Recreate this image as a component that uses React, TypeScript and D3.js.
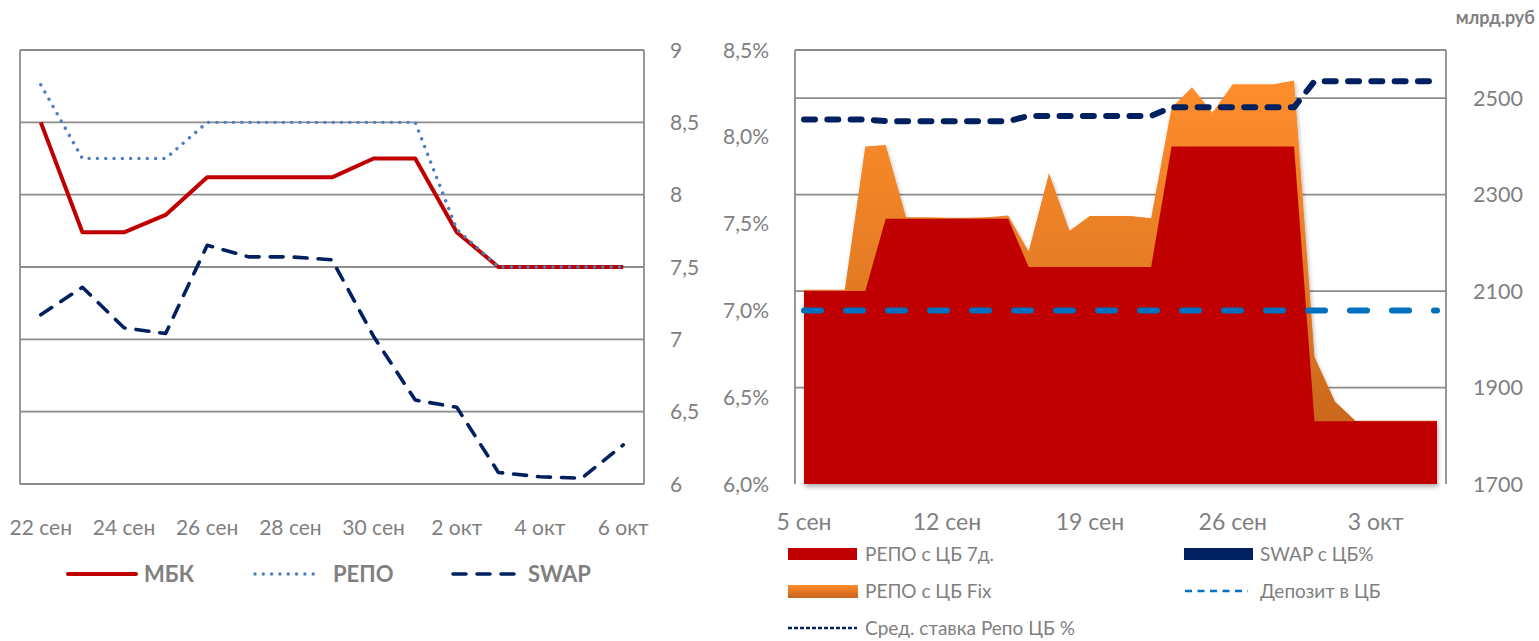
import React from "react";
import * as d3 from "d3";

// ---------- Left chart data ----------
const leftDates = ["22 сен", "23 сен", "24 сен", "25 сен", "26 сен", "27 сен", "28 сен", "29 сен", "30 сен", "1 окт", "2 окт", "3 окт", "4 окт", "5 окт", "6 окт"];
const leftTickLabels = ["22 сен", "24 сен", "26 сен", "28 сен", "30 сен", "2 окт", "4 окт", "6 окт"];
const mbk = [8.5, 7.74, 7.74, 7.86, 8.12, 8.12, 8.12, 8.12, 8.25, 8.25, 7.74, 7.5, 7.5, 7.5, 7.5];
const repo = [8.76, 8.25, 8.25, 8.25, 8.5, 8.5, 8.5, 8.5, 8.5, 8.5, 7.76, 7.5, 7.5, 7.5, 7.5];
const swap = [7.17, 7.36, 7.08, 7.04, 7.65, 7.57, 7.57, 7.55, 7.02, 6.58, 6.53, 6.08, 6.05, 6.04, 6.27];
const leftYTicks = [6, 6.5, 7, 7.5, 8, 8.5, 9];
const leftYTickLabels = ["6", "6,5", "7", "7,5", "8", "8,5", "9"];
const leftLegend = ["МБК", "РЕПО", "SWAP"];

// ---------- Right chart data ----------
const rightDates = [
  "5 сен", "6 сен", "7 сен", "8 сен", "9 сен", "10 сен", "11 сен", "12 сен", "13 сен", "14 сен",
  "15 сен", "16 сен", "17 сен", "18 сен", "19 сен", "20 сен", "21 сен", "22 сен", "23 сен", "24 сен",
  "25 сен", "26 сен", "27 сен", "28 сен", "29 сен", "30 сен", "1 окт", "2 окт", "3 окт", "4 окт",
  "5 окт", "6 окт",
];
const rightTickLabels = ["5 сен", "12 сен", "19 сен", "26 сен", "3 окт"];
// млрд руб (right axis)
const repo7d = [
  2100, 2100, 2100, 2100, 2250, 2250, 2250, 2250, 2250, 2250,
  2250, 2150, 2150, 2150, 2150, 2150, 2150, 2150, 2400, 2400,
  2400, 2400, 2400, 2400, 2400, 1830, 1830, 1830, 1830, 1830,
  1830, 1830,
];
const repoFix = [
  3, 3, 3, 300, 153, 3, 3, 2, 2, 3,
  7, 32, 195, 75, 106, 106, 106, 101, 80, 123,
  70, 129, 129, 129, 137, 134, 41, 1, 1, 1,
  1, 1,
];
// % (left axis)
const depositRate = [
  7.0, 7.0, 7.0, 7.0, 7.0, 7.0, 7.0, 7.0, 7.0, 7.0,
  7.0, 7.0, 7.0, 7.0, 7.0, 7.0, 7.0, 7.0, 7.0, 7.0,
  7.0, 7.0, 7.0, 7.0, 7.0, 7.0, 7.0, 7.0, 7.0, 7.0,
  7.0, 7.0,
];
const avgRepoRate = [
  8.10, 8.10, 8.10, 8.10, 8.09, 8.09, 8.09, 8.09, 8.09, 8.09,
  8.09, 8.12, 8.12, 8.12, 8.12, 8.12, 8.12, 8.12, 8.17, 8.17,
  8.17, 8.17, 8.17, 8.17, 8.17, 8.32, 8.32, 8.32, 8.32, 8.32,
  8.32, 8.32,
];
const rightPctTicks = [6, 6.5, 7, 7.5, 8, 8.5];
const rightPctLabels = ["6,0%", "6,5%", "7,0%", "7,5%", "8,0%", "8,5%"];
const rightBlnTicks = [1700, 1900, 2100, 2300, 2500];
const rightUnit = "млрд.руб";
const rightLegend = ["РЕПО с ЦБ 7д.", "SWAP с ЦБ%", "РЕПО с ЦБ Fix", "Депозит в ЦБ", "Сред. ставка Репо ЦБ %"];

const FONT = "Lato, 'Open Sans', 'DejaVu Sans', sans-serif";
const GREY = "#808080";
const GRID = "#8c8c8c";
const RED = "#C00000";
const NAVY = "#002060";
const BLUE_DOT = "#4A7EC2";
const DEP_BLUE = "#0070C0";

function LeftChart() {
  const x = d3.scalePoint<string>().domain(leftDates).range([20, 644]).padding(0.5);
  const y = d3.scaleLinear().domain([6, 9]).range([484, 50]);
  const line = d3
    .line<number>()
    .x((_, i) => x(leftDates[i]) as number)
    .y((d) => y(d));
  return (
    <g fontFamily={FONT}>
      {leftYTicks.map((t, i) => (
        <g key={t}>
          <line x1={20} x2={644} y1={y(t)} y2={y(t)} stroke={GRID} strokeWidth={1.8} />
          <text x={670} y={y(t)} dy="0.36em" fontSize={21} fill={GREY}>
            {leftYTickLabels[i]}
          </text>
        </g>
      ))}
      <line x1={20} x2={20} y1={y(9)} y2={y(6)} stroke={GRID} strokeWidth={1.8} />
      <line x1={644} x2={644} y1={y(9)} y2={y(6)} stroke={GRID} strokeWidth={1.8} />
      {leftTickLabels.map((lab) => (
        <text key={lab} x={x(lab) as number} y={527} dy="0.36em" textAnchor="middle" fontSize={21} fill={GREY}>
          {lab}
        </text>
      ))}
      <path d={line(swap) || ""} fill="none" stroke={NAVY} strokeWidth={3.6} strokeDasharray="13 11" strokeLinecap="round" strokeLinejoin="round" />
      <path d={line(mbk) || ""} fill="none" stroke={RED} strokeWidth={4} strokeLinejoin="round" />
      <path d={line(repo) || ""} fill="none" stroke={BLUE_DOT} strokeWidth={3.4} strokeDasharray="0.01 8.3" strokeLinecap="round" />
      {/* legend */}
      <line x1={68} x2={136} y1={574} y2={574} stroke={RED} strokeWidth={4} strokeLinecap="round" />
      <text x={144} y={574} dy="0.36em" fontSize={22} fontWeight="bold" fill={GREY}>{leftLegend[0]}</text>
      <line x1={255} x2={316} y1={574} y2={574} stroke={BLUE_DOT} strokeWidth={3.4} strokeDasharray="0.01 8.3" strokeLinecap="round" />
      <text x={333} y={574} dy="0.36em" fontSize={22} fontWeight="bold" fill={GREY}>{leftLegend[1]}</text>
      <line x1={453} x2={520} y1={574} y2={574} stroke={NAVY} strokeWidth={3.6} strokeDasharray="13 11" strokeLinecap="round" />
      <text x={528} y={574} dy="0.36em" fontSize={22} fontWeight="bold" fill={GREY}>{leftLegend[2]}</text>
    </g>
  );
}

function RightChart() {
  const x = d3.scaleLinear().domain([0, rightDates.length - 1]).range([804, 1437]);
  const yP = d3.scaleLinear().domain([6, 8.5]).range([484, 50]);
  const yB = d3.scaleLinear().domain([1700, 2600]).range([484, 50]);
  const idx = rightDates.map((_, i) => i);
  const totalArea = d3
    .area<number>()
    .x((i) => x(i))
    .y0(() => yB(1700))
    .y1((i) => yB(repo7d[i] + repoFix[i]));
  const redArea = d3
    .area<number>()
    .x((i) => x(i))
    .y0(() => yB(1700))
    .y1((i) => yB(repo7d[i]));
  const pctLine = (arr: number[]) =>
    d3
      .line<number>()
      .x((i) => x(i))
      .y((i) => yP(arr[i]))(idx) || "";
  const L = 795, R = 1446;
  return (
    <g fontFamily={FONT}>
      <defs>
        <linearGradient id="fixGrad" gradientUnits="userSpaceOnUse" x1={0} x2={0} y1={80} y2={484}>
          <stop offset="0" stopColor="#FF8D2B" />
          <stop offset="0.45" stopColor="#E67D25" />
          <stop offset="1" stopColor="#C0601A" />
        </linearGradient>
        <linearGradient id="fixLegGrad" x1={0} x2={0} y1={0} y2={1}>
          <stop offset="0" stopColor="#FF8C28" />
          <stop offset="1" stopColor="#C8641E" />
        </linearGradient>
        <filter id="shadow" x="-5%" y="-5%" width="110%" height="115%">
          <feDropShadow dx={1} dy={3} stdDeviation={2} floodColor="#000" floodOpacity={0.3} />
        </filter>
      </defs>
      {rightBlnTicks.map((t) => (
        <g key={t}>
          {t > 1700 && <line x1={L} x2={R} y1={yB(t)} y2={yB(t)} stroke={GRID} strokeWidth={1.8} />}
          <text x={1473} y={yB(t)} dy="0.36em" fontSize={21.5} fill={GREY}>{t}</text>
        </g>
      ))}
      <line x1={L} x2={R} y1={50} y2={50} stroke={GRID} strokeWidth={1.8} />
      <line x1={L} x2={L} y1={50} y2={484} stroke={GRID} strokeWidth={1.8} />
      <line x1={R} x2={R} y1={50} y2={484} stroke={GRID} strokeWidth={1.8} />
      {rightPctTicks.map((t, i) => (
        <text key={t} x={769} y={yP(t)} dy="0.36em" textAnchor="end" fontSize={21} fill={GREY}>
          {rightPctLabels[i]}
        </text>
      ))}
      <text x={1535} y={18} dy="0.36em" textAnchor="end" fontSize={18} fontWeight="bold" fill={GREY}>{rightUnit}</text>
      <g filter="url(#shadow)">
        <path d={totalArea(idx) || ""} fill="url(#fixGrad)" />
      </g>
      <path d={redArea(idx) || ""} fill={RED} />
      <path d={pctLine(depositRate)} fill="none" stroke={DEP_BLUE} strokeWidth={6} strokeDasharray="17 25" strokeLinecap="round" />
      <path d={pctLine(avgRepoRate)} fill="none" stroke={NAVY} strokeWidth={6} strokeDasharray="11 12.3" strokeLinecap="round" strokeLinejoin="round" />
      {rightTickLabels.map((lab) => (
        <text key={lab} x={x(rightDates.indexOf(lab))} y={522} dy="0.36em" textAnchor="middle" fontSize={23} fill={GREY}>
          {lab}
        </text>
      ))}
      {/* legend */}
      <rect x={788} y={548} width={69} height={12} fill={RED} />
      <text x={865} y={554} dy="0.36em" fontSize={19} fill={GREY}>{rightLegend[0]}</text>
      <rect x={1184} y={548} width={69} height={12} fill={NAVY} />
      <text x={1260} y={554} dy="0.36em" fontSize={19} fill={GREY}>{rightLegend[1]}</text>
      <rect x={788} y={585} width={70} height={13} fill="url(#fixLegGrad)" />
      <text x={865} y={591} dy="0.36em" fontSize={19} fill={GREY}>{rightLegend[2]}</text>
      <line x1={1185} x2={1248} y1={591} y2={591} stroke={DEP_BLUE} strokeWidth={2.5} strokeDasharray="7 5.5" />
      <text x={1260} y={591} dy="0.36em" fontSize={19} fill={GREY}>{rightLegend[3]}</text>
      <line x1={788} x2={857} y1={628} y2={628} stroke={NAVY} strokeWidth={2.5} strokeDasharray="4 2" />
      <text x={865} y={628} dy="0.36em" fontSize={19} fill={GREY}>{rightLegend[4]}</text>
    </g>
  );
}

export default function App() {
  return (
    <svg
      width={1539}
      height={641}
      viewBox="0 0 1539 641"
      style={{ position: "absolute", left: 0, top: 0, background: "#fff" }}
    >
      <rect width={1539} height={641} fill="#fff" />
      <LeftChart />
      <RightChart />
    </svg>
  );
}
